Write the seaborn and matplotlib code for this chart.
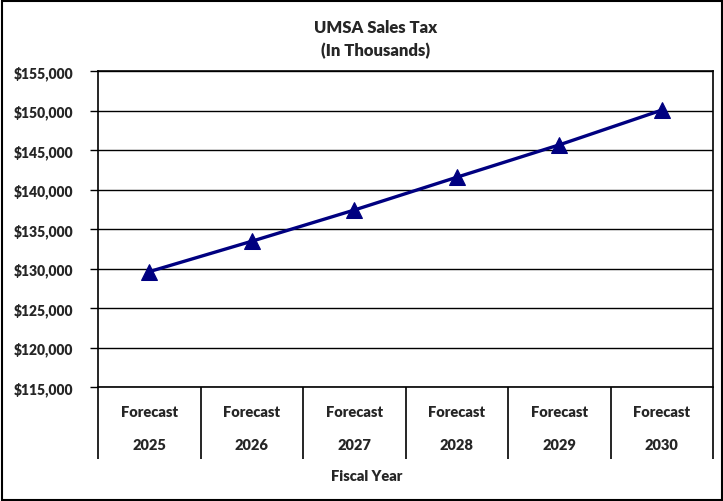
import matplotlib
matplotlib.use("Agg")
import matplotlib.pyplot as plt
import seaborn as sns
import pandas as pd
import numpy as np
from matplotlib.ticker import FuncFormatter, MultipleLocator
from matplotlib.patches import Rectangle

years = ["2025", "2026", "2027", "2028", "2029", "2030"]
values = [129600, 133450, 137400, 141550, 145650, 150050]
tick_labels = [f"Forecast\n{y}" for y in years]
title = "UMSA Sales Tax\n(In Thousands)"
xlabel = "Fiscal Year"

sns.set_style("white")
plt.rcParams['font.family'] = ['Lato', 'DejaVu Sans']

W, H = 723, 502
fig = plt.figure(figsize=(W / 100, H / 100), dpi=100)
ax = fig.add_axes([98 / W, (H - 388) / H, 615 / W, 316 / H])

df = pd.DataFrame({"year": years, "value": values})
sns.lineplot(data=df, x="year", y="value", ax=ax, color="#000080", linewidth=2.4,
             marker="^", markersize=11, markeredgecolor="#000080", sort=False)

ax.set_xlim(-0.5, len(years) - 0.5)
ax.set_ylim(115000, 155000)
ax.yaxis.set_major_locator(MultipleLocator(5000))
ax.yaxis.set_major_formatter(FuncFormatter(lambda v, p: f"${v:,.0f}"))
ax.grid(axis="y", color="black", linewidth=1.0)
ax.grid(axis="x", visible=False)
ax.set_axisbelow(True)

ax.set_xticks(range(len(years)))
ax.set_xticklabels(tick_labels, linespacing=2.8, fontweight="heavy", fontsize=10.5)
ax.set_xticks(np.arange(-0.5, len(years)), minor=True)
ax.tick_params(axis="x", which="major", bottom=True, length=0, pad=13)
ax.tick_params(axis="x", which="minor", bottom=True, length=52, width=1.2,
               color="black", direction="out")
ax.tick_params(axis="y", which="major", left=True, length=6, width=1.0,
               color="black", direction="out", pad=12)
for lab in ax.get_yticklabels():
    lab.set_fontweight("heavy")
    lab.set_fontsize(10)

for s in ax.spines.values():
    s.set_color("black")
    s.set_linewidth(1.2)

ax.set_xlabel("")
ax.set_ylabel("")

fig.text(376 / W, 1 - 40 / H, title, ha="center", va="center", fontsize=12,
         fontweight="heavy", linespacing=1.5)
fig.text(367 / W, 1 - 477 / H, xlabel, ha="center", va="center", fontsize=10.5,
         fontweight="heavy")

fig.patches.append(Rectangle((1.5 / W, 1.5 / H), (W - 3) / W, (H - 3) / H,
                             transform=fig.transFigure, fill=False,
                             edgecolor="black", linewidth=1.5))

fig.savefig("out.png", dpi=100, facecolor="white")
